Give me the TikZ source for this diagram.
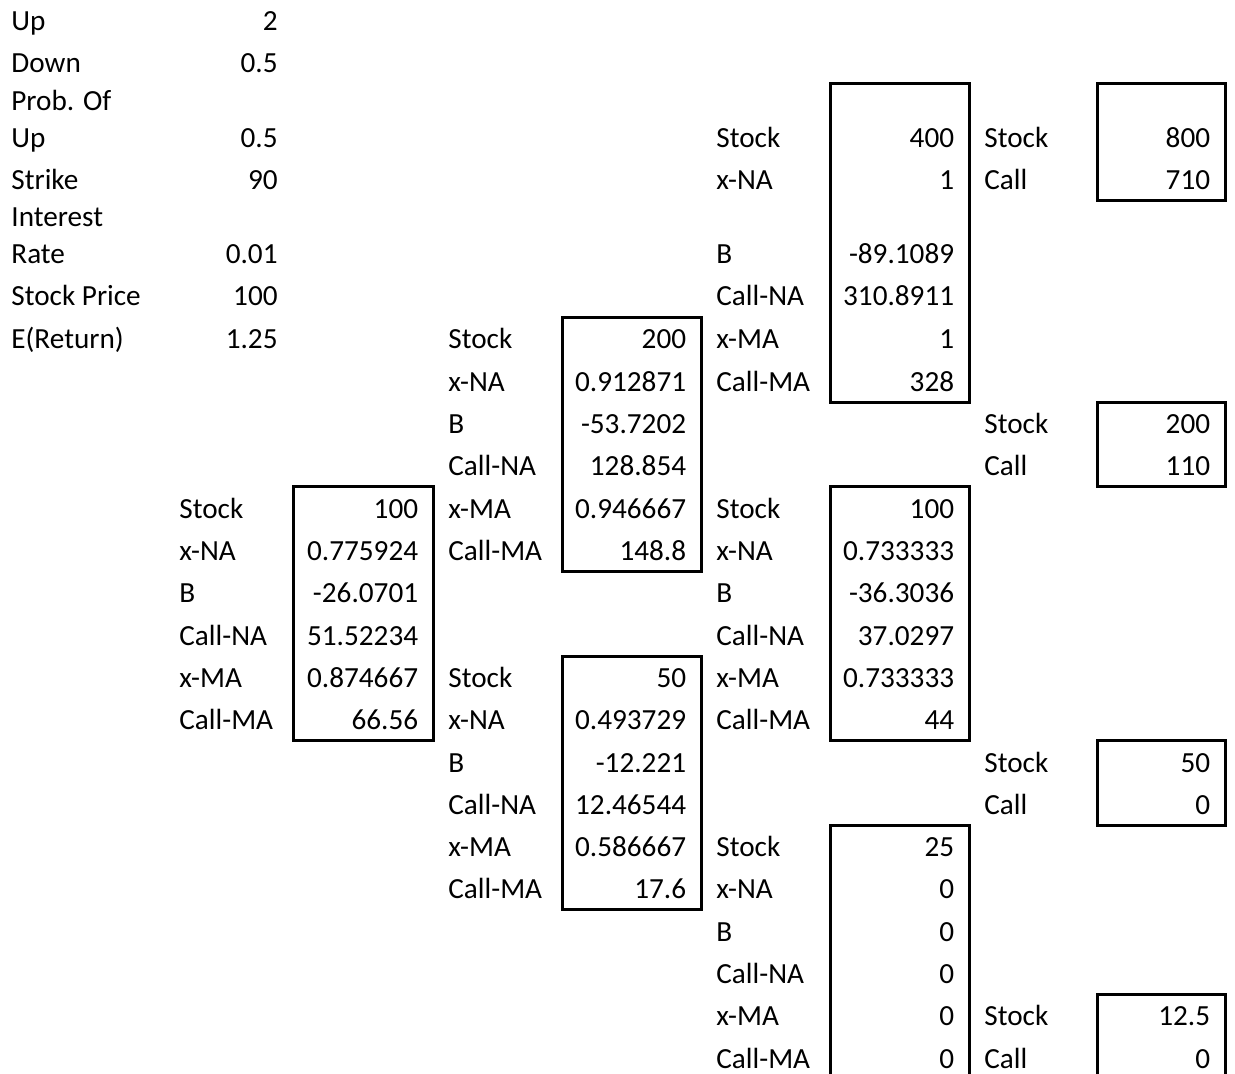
\documentclass[tikz,border=0pt]{standalone}
\usepackage{fontspec}
\setmainfont{Carlito}
\tikzset{
  lab/.style={anchor=base west,inner sep=0pt},
  val/.style={anchor=base east,inner sep=0pt},
  cellbox/.style={line width=1.5pt,line join=miter},
}
% one tree cell: name, label x, box left, box right, first row, last row, label/value list
\newcommand{\treecell}[7]{%
  \foreach \l/\v [count=\i from 0] in {#7}{
    \node[lab] (#1-l\i) at (#2,{349+42.3*(#5+\i)}) {\l};
    \node[val] (#1-v\i) at ({#4-14.5},{349+42.3*(#5+\i)}) {\v};}
  \draw[cellbox] (#3,{317.7+42.3*#5}) rectangle (#4,{360+42.3*#6});
}
\begin{document}
\begin{tikzpicture}[x=0.5pt,y=-0.5pt,font=\fontsize{14.6}{17.5}\selectfont]
\clip (0,0) rectangle (1235,1074);
% inputs
\foreach \l/\v/\y [count=\i] in {Up/2/31,Down/0.5/73,Prob. Of//111,Up/0.5/148,Strike/90/190,
  Interest//227,Rate/0.01/264,Stock Price/100/306,E(Return)/1.25/349}{
  \node[lab] (in-l\i) at (11,\y) {\l};
  \node[val] (in-v\i) at (278,\y) {\v};}
% up-up node (uneven rows)
\foreach \l/\v/\y [count=\i] in {Stock/400/148,x-NA/1/190,B/-89.1089/264,Call-NA/310.8911/306,
  x-MA/1/349,Call-MA/328/391.3}{
  \node[lab] (uu-l\i) at (716,\y) {\l};
  \node[val] (uu-v\i) at (954.5,\y) {\v};}
\draw[cellbox] (830,84) rectangle (969,402.3);
\foreach \l/\v/\y [count=\i] in {Stock/800/148,Call/710/190}{
  \node[lab] (uuu-l\i) at (984,\y) {\l};
  \node[val] (uuu-v\i) at (1210.5,\y) {\v};}
\draw[cellbox] (1097,84) rectangle (1225,201);
% rest of the tree
\treecell{u}{448}{562}{701}{0}{5}{Stock/200,x-NA/0.912871,B/-53.7202,Call-NA/128.854,x-MA/0.946667,Call-MA/148.8}
\treecell{o}{179}{293}{433}{4}{9}{Stock/100,x-NA/0.775924,B/-26.0701,Call-NA/51.52234,x-MA/0.874667,Call-MA/66.56}
\treecell{uud}{984}{1097}{1225}{2}{3}{Stock/200,Call/110}
\treecell{ud}{716}{830}{969}{4}{9}{Stock/100,x-NA/0.733333,B/-36.3036,Call-NA/37.0297,x-MA/0.733333,Call-MA/44}
\treecell{d}{448}{562}{701}{8}{13}{Stock/50,x-NA/0.493729,B/-12.221,Call-NA/12.46544,x-MA/0.586667,Call-MA/17.6}
\treecell{udd}{984}{1097}{1225}{10}{11}{Stock/50,Call/0}
\treecell{dd}{716}{830}{969}{12}{17}{Stock/25,x-NA/0,B/0,Call-NA/0,x-MA/0,Call-MA/0}
\treecell{ddd}{984}{1097}{1225}{16}{17}{Stock/12.5,Call/0}
\end{tikzpicture}
\end{document}
